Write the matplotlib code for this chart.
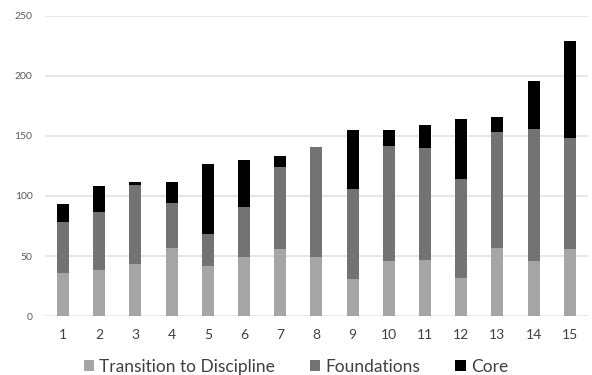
import matplotlib
matplotlib.use("Agg")
import matplotlib.pyplot as plt
import numpy as np

# credit hours per program, split by course level
programs = [str(i) for i in range(1, 16)]
transition = [36, 38, 43, 57, 42, 49, 56, 49, 31, 46, 47, 32, 57, 46, 56]
foundations = [42, 49, 66, 37, 26, 42, 68, 92, 75, 96, 93, 82, 96, 110, 92]
core = [15, 21, 3, 18, 59, 39, 9, 0, 49, 13, 19, 50, 13, 40, 81]

plt.rcParams['font.family'] = ['Lato', 'DejaVu Sans']

fig = plt.figure(figsize=(5.92, 3.75), dpi=100)
ax = fig.add_axes([0.076, 0.157, 0.917, 0.801])

x = np.arange(1, len(programs) + 1)
w = 0.33
base2 = np.array(transition)
base3 = base2 + np.array(foundations)
ax.bar(x, transition, w, color='#a5a5a5', label='Transition to Discipline', zorder=3)
ax.bar(x, foundations, w, bottom=base2, color='#737373', label='Foundations', zorder=3)
ax.bar(x, core, w, bottom=base3, color='#000000', label='Core', zorder=3)

ax.set_xlim(0.5, 15.5)
ax.set_ylim(0, 250)
ax.set_yticks(range(0, 251, 50))
ax.set_xticks(x)
ax.set_xticklabels(programs)
ax.grid(axis='y', color='#e3e3e3', linewidth=1.2, zorder=0)
for s in ax.spines.values():
    s.set_visible(False)
ax.tick_params(axis='both', length=0)
ax.tick_params(axis='y', labelsize=7.5, labelcolor='#595959', pad=9)
ax.tick_params(axis='x', labelsize=10, labelcolor='#404040', pad=9)

fig.legend(loc='center', bbox_to_anchor=(0.5, 0.022), ncol=3, frameon=False,
           fontsize=12.5, handlelength=0.6, handleheight=0.6, handletextpad=0.3,
           columnspacing=2.0, labelcolor='#404040')

fig.savefig('out.png', dpi=100)
